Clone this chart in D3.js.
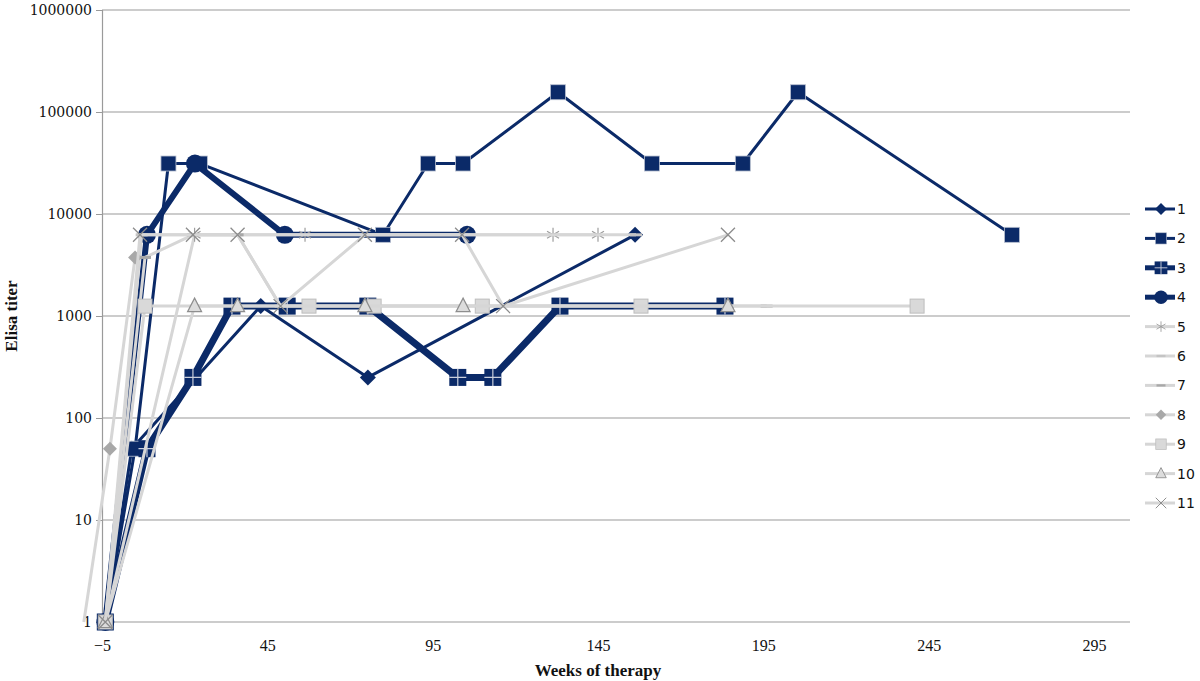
<!DOCTYPE html>
<html><head><meta charset="utf-8">
<script src="https://cdn.jsdelivr.net/npm/d3@7"></script>
<style>body{margin:0;background:#fff}svg{display:block}</style>
</head><body><svg id="c" width="1200" height="681"></svg>
<script>
// ---- data ----
const seriesNames = ["1","2","3","4","5","6","7","8","9","10","11"];
const xTicks = [-5,45,95,145,195,245,295];
const yTicks = [1,10,100,1000,10000,100000,1000000];

const weeks1 = [-4, 4, 43, 75.4, 156.2];
const titer1 = [1, 50, 1250, 250, 6250];
const weeks2 = [-4, 5, 15.1, 24.6, 80, 93.6, 104.2, 132.9, 161.3, 188.8, 205.5, 270.2];
const titer2 = [1, 50, 31250, 31250, 6250, 31250, 31250, 156250, 31250, 31250, 156250, 6250];
const weeks3 = [-4, 8.6, 22.5, 34.3, 51, 75.4, 102.6, 113.2, 133.5, 183.4];
const titer3 = [1, 50, 250, 1250, 1250, 1250, 250, 250, 1250, 1250];
const weeks4 = [-4, 8.6, 23.1, 50.3, 105.4];
const titer4 = [1, 6250, 31250, 6250, 6250];
const weeks5 = [-4, 23, 56.4, 131.4, 145];
const titer5 = [1, 6250, 6250, 6250, 6250];
const weeks6 = [-4, 7, 156.5];
const titer6 = [1, 6250, 6250];
const weeks7 = [-4, 8, 22.5, 36, 49, 196];
const titer7 = [1, 3750, 6250, 6250, 1250, 1250];
const weeks8 = [-10.5, -2.6, 5];
const titer8 = [1, 50, 3750];
const weeks9 = [-4, 8, 57.6, 77.3, 110, 158, 241.5];
const titer9 = [1, 1250, 1250, 1250, 1250, 1250, 1250];
const weeks10 = [-4, 23, 36, 74.5, 104.2, 184.3];
const titer10 = [1, 1250, 1250, 1250, 1250, 1250];
const weeks11 = [-4, 6.5, 22.5, 36, 49, 74.5, 103.9, 116.3, 184.3];
const titer11 = [1, 6250, 6250, 6250, 1250, 6250, 6250, 1250, 6250];

const allWeeks = [weeks1,weeks2,weeks3,weeks4,weeks5,weeks6,weeks7,weeks8,weeks9,weeks10,weeks11];
const allTiters = [titer1,titer2,titer3,titer4,titer5,titer6,titer7,titer8,titer9,titer10,titer11];

// ---- styles ----
const NAVY = "#0b2a68", LG = "#d6d6d6";
const styles = [
  {stroke:NAVY, w:3, m:"diamond"},
  {stroke:NAVY, w:3, m:"square"},
  {stroke:NAVY, w:7, m:"crossSquare"},
  {stroke:NAVY, w:6, m:"circle"},
  {stroke:LG, w:3, m:"asterisk"},
  {stroke:LG, w:3, m:"dashLight"},
  {stroke:LG, w:3, m:"dash"},
  {stroke:LG, w:3, m:"gdiamond"},
  {stroke:LG, w:3, m:"gsquare"},
  {stroke:LG, w:3, m:"triangle"},
  {stroke:LG, w:3, m:"times"}
];

const svg = d3.select("#c");
const x = d3.scaleLinear().domain([-5,295]).range([102,1094]);
const y = d3.scaleLog().domain([1,1e6]).range([622,10]);

// gridlines
svg.append("g").selectAll("line").data(yTicks).join("line")
  .attr("x1",102).attr("x2",1130).attr("y1",d=>y(d)).attr("y2",d=>y(d))
  .attr("stroke","#9a9a9a").attr("stroke-width",1.2);

// y axis
const ya = svg.append("g").attr("transform","translate(102,0)")
  .call(d3.axisLeft(y).tickValues(yTicks).tickFormat(d3.format("d")).tickSize(6).tickPadding(4));
ya.select(".domain").attr("stroke","#9a9a9a").attr("stroke-width",1.2);
ya.selectAll(".tick line").attr("stroke","#9a9a9a");
ya.selectAll("text").attr("font-family","DejaVu Serif").attr("font-size",14).attr("fill","#111");

// x axis labels
const xa = svg.append("g").attr("transform","translate(0,640)")
  .call(d3.axisBottom(x).tickValues(xTicks).tickSize(0).tickPadding(0));
xa.select(".domain").remove();
xa.selectAll("text").attr("font-family","Liberation Serif").attr("font-size",16).attr("fill","#111").attr("dy","0.71em");

// axis titles
svg.append("text").attr("x",598).attr("y",676).attr("text-anchor","middle")
  .attr("font-family","Liberation Serif").attr("font-weight","bold").attr("font-size",17).attr("fill","#111")
  .text("Weeks of therapy");
svg.append("text").attr("transform","translate(17,316) rotate(-90)").attr("text-anchor","middle")
  .attr("font-family","Liberation Serif").attr("font-weight","bold").attr("font-size",17).attr("fill","#111")
  .text("Elisa titer");

// marker drawing
function marker(g, type, cx, cy, s){
  s = s || 1;
  const G = g.append("g").attr("transform",`translate(${cx},${cy}) scale(${s})`);
  switch(type){
    case "diamond":
      G.append("path").attr("d","M0,-8L8,0L0,8L-8,0Z").attr("fill",NAVY); break;
    case "square":
      G.append("rect").attr("x",-7.5).attr("y",-7.5).attr("width",15).attr("height",15)
        .attr("fill",NAVY).attr("stroke","#b8c0d0").attr("stroke-width",0.8); break;
    case "crossSquare":
      G.append("rect").attr("x",-8.5).attr("y",-8.5).attr("width",17).attr("height",17).attr("fill",NAVY);
      G.append("path").attr("d","M0,-8.5V8.5M-8.5,0H8.5").attr("stroke","#c9cfdc").attr("stroke-width",1.2); break;
    case "circle":
      G.append("circle").attr("r",9).attr("fill",NAVY); break;
    case "asterisk":
      G.append("path").attr("d","M0,-7V7M-6,-3.5L6,3.5M-6,3.5L6,-3.5").attr("stroke","#9e9e9e").attr("stroke-width",1.2); break;
    case "dashLight":
      G.append("path").attr("d","M-6,0H6").attr("stroke","#c4c4c4").attr("stroke-width",3); break;
    case "dash":
      G.append("path").attr("d","M-6,0H6").attr("stroke","#a8a8a8").attr("stroke-width",3); break;
    case "gdiamond":
      G.append("path").attr("d","M0,-7L7,0L0,7L-7,0Z").attr("fill","#a8a8a8"); break;
    case "gsquare":
      G.append("rect").attr("x",-7).attr("y",-7).attr("width",14).attr("height",14)
        .attr("fill","#d9d9d9").attr("stroke","#bdbdbd").attr("stroke-width",1); break;
    case "triangle":
      G.append("path").attr("d","M0,-8L7,5.5L-7,5.5Z").attr("fill","#dcdcdc").attr("stroke","#8e8e8e").attr("stroke-width",1.2); break;
    case "times":
      G.append("path").attr("d","M-7,-7L7,7M-7,7L7,-7").attr("stroke","#8c8c8c").attr("stroke-width",1.3); break;
  }
}

const line = d3.line().x(d=>x(d[0])).y(d=>y(d[1]));
const plot = svg.append("g");
seriesNames.forEach((name,i)=>{
  const pts = allWeeks[i].map((w,j)=>[w, allTiters[i][j]]);
  const st = styles[i];
  plot.append("path").datum(pts).attr("d",line).attr("fill","none")
    .attr("stroke",st.stroke).attr("stroke-width",st.w).attr("stroke-linejoin","round");
  // markers outside the x-axis range are clipped (only the line shows)
  pts.filter(p=>p[0] >= x.domain()[0]).forEach(p=>marker(plot, st.m, x(p[0]), y(p[1])));
});

// legend
const leg = svg.append("g");
seriesNames.forEach((name,i)=>{
  const st = styles[i];
  const ly = 209 + i*29.4;
  leg.append("line").attr("x1",1145).attr("x2",1175).attr("y1",ly).attr("y2",ly)
    .attr("stroke",st.stroke).attr("stroke-width",Math.min(st.w,5));
  marker(leg, st.m, 1161, ly, 0.75);
  leg.append("text").attr("x",1177).attr("y",ly).attr("dy","0.35em")
    .attr("font-family","DejaVu Sans").attr("font-size",14).attr("fill","#111").text(name);
});
</script></body></html>
